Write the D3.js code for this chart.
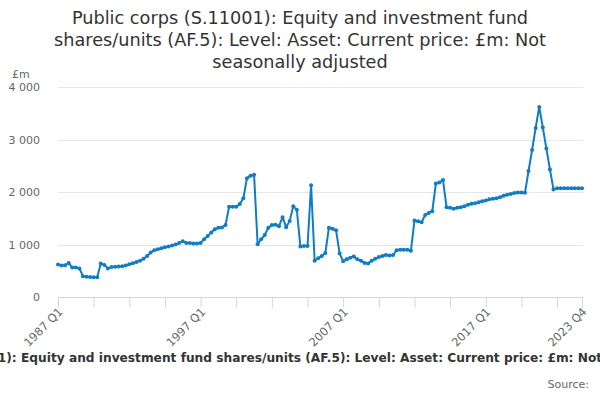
<!DOCTYPE html>
<html>
<head>
<meta charset="utf-8">
<script src="https://cdn.jsdelivr.net/npm/d3@7"></script>
<style>
  body { margin: 0; background: #fff; }
  svg { font-family: "DejaVu Sans", Verdana, sans-serif; }
</style>
</head>
<body>
<div class="graph"></div>
<script>
// quarterly series, 1987 Q1 .. 2023 Q4 (£m)
const years = d3.range(1987, 2024)
const quarters = ["Q1", "Q2", "Q3", "Q4"]
const values = [
  620, 600, 605, 650, 560, 560, 545, 396, 385, 380,
  378, 377, 640, 608, 545, 570, 575, 583, 585, 600,
  625, 645, 665, 690, 730, 780, 846, 890, 910, 930,
  950, 960, 980, 1000, 1030, 1060, 1030, 1030, 1020, 1020,
  1030, 1100, 1160, 1230, 1290, 1320, 1325, 1370, 1720, 1720,
  1720, 1770, 1880, 2260, 2310, 2330, 1005, 1100, 1180, 1320,
  1370, 1375, 1350, 1520, 1330, 1450, 1730, 1660, 960, 970,
  970, 2130, 690, 740, 780, 840, 1320, 1300, 1270, 830,
  680, 720, 750, 770, 720, 690, 650, 640, 690, 730,
  760, 780, 800, 790, 800, 890, 900, 900, 900, 880,
  1455, 1442, 1423, 1563, 1602, 1634, 2160, 2180, 2230, 1711,
  1698, 1679, 1700, 1711, 1730, 1756, 1775, 1788, 1807, 1826,
  1839, 1860, 1870, 1880, 1900, 1930, 1950, 1960, 1980, 1990,
  1990, 1985, 2400, 2800, 3220, 3620, 3230, 2830, 2430, 2050,
  2070, 2070, 2070, 2070, 2070, 2070, 2070, 2070
]
const yTicks = [0, 1000, 2000, 3000, 4000]
const labelledQuarters = ["1987 Q1", "1997 Q1", "2007 Q1", "2017 Q1", "2023 Q4"]

const titleLines = [
  "Public corps (S.11001): Equity and investment fund",
  "shares/units (AF.5): Level: Asset: Current price: £m: Not",
  "seasonally adjusted"
]
const seriesName = "Public corps (S.11001): Equity and investment fund shares/units (AF.5): Level: Asset: Current price: £m: Not seasonally adjusted"

const categories = []
for (let y of years) for (let q of quarters) categories.push(y + " " + q)
const data = categories.map((c, i) => ({cat: c, i: i, value: values[i]}))

const width = 600, height = 400
const margin = {top: 87, right: 18, bottom: 103, left: 58}

const svg = d3.select(".graph").append("svg")
    .attr("width", width)
    .attr("height", height)

const x = d3.scaleLinear()
    .domain([0, categories.length - 1])
    .range([margin.left, width - margin.right])

const y = d3.scaleLinear()
    .domain([0, 4000])
    .range([height - margin.bottom, margin.top])

// title
svg.append("g")
    .selectAll("text")
    .data(titleLines)
    .join("text")
    .attr("x", width / 2)
    .attr("y", (d, i) => 24 + i * 22)
    .attr("text-anchor", "middle")
    .style("font-size", "17.7px")
    .style("fill", "#333")
    .text(d => d)

// grid
svg.append("g")
    .selectAll("line")
    .data(yTicks.filter(d => d > 0))
    .join("line")
    .attr("x1", margin.left)
    .attr("x2", width - margin.right + 1)
    .attr("y1", d => Math.round(y(d)) + 0.5)
    .attr("y2", d => Math.round(y(d)) + 0.5)
    .style("stroke", "#e6e6e6")

// y axis
const yAxis = g => g
    .attr("transform", `translate(${margin.left - 15}, 0)`)
    .call(d3.axisLeft(y).tickValues(yTicks).tickSize(0).tickFormat(d => d3.format(",")(d).replace(",", " ")))
    .call(g => g.select(".domain").remove())

svg.append("g")
    .call(yAxis)
    .style("font-size", "11px")
    .style("font-family", "DejaVu Sans")
    .selectAll("text").style("fill", "#666")

svg.append("text")
    .attr("x", 12)
    .attr("y", 78)
    .style("font-size", "11px")
    .style("fill", "#666")
    .text("£m")

// x axis
const tickIdx = d3.range(0, categories.length, 10).concat([categories.length - 1])
const xAxis = g => g
    .attr("transform", `translate(0, ${Math.round(y(0)) + 0.5})`)
    .call(d3.axisBottom(x).tickValues(tickIdx).tickSize(10).tickSizeOuter(0)
        .tickFormat(i => labelledQuarters.includes(categories[i]) ? categories[i] : ""))
    .call(g => g.select(".domain").attr("d", `M${margin.left},0H${width - margin.right + 1}`).style("stroke", "#ccd6eb"))
    .call(g => g.selectAll(".tick line").style("stroke", "#ccd6eb"))
    .call(g => g.selectAll(".tick text")
        .attr("text-anchor", "end")
        .attr("x", 0)
        .attr("y", 0)
        .attr("dy", 0)
        .attr("transform", "translate(5, 15) rotate(-45)")
        .style("fill", "#666"))

svg.append("g")
    .call(xAxis)
    .style("font-size", "11.5px")
    .style("font-family", "DejaVu Sans")

// series
const line = d3.line()
    .x(d => x(d.i))
    .y(d => y(d.value))

svg.append("path")
    .datum(data)
    .attr("d", line)
    .attr("fill", "none")
    .attr("stroke", "#0f7cc6")
    .attr("stroke-width", 2)
    .attr("stroke-linejoin", "round")

svg.append("g")
    .selectAll("circle")
    .data(data)
    .join("circle")
    .attr("cx", d => x(d.i))
    .attr("cy", d => y(d.value))
    .attr("r", 2)
    .attr("fill", "#0f7cc6")

// legend (clipped by the page, like the reference)
svg.append("text")
    .attr("x", width / 2)
    .attr("y", 362)
    .attr("text-anchor", "middle")
    .style("font-size", "12.2px")
    .style("font-weight", "bold")
    .style("fill", "#333")
    .text(seriesName)

svg.append("text")
    .attr("x", 589)
    .attr("y", 388)
    .attr("text-anchor", "end")
    .style("font-size", "11px")
    .style("fill", "#666")
    .text("Source:")
</script>
</body>
</html>
